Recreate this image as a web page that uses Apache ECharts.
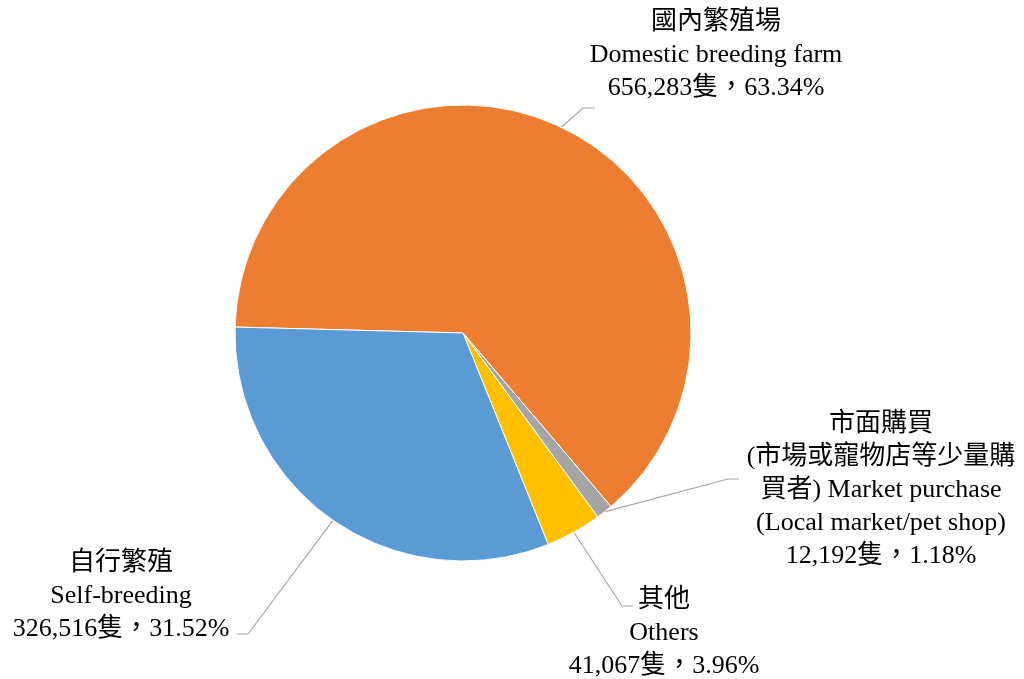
<!DOCTYPE html>
<html>
<head>
<meta charset="utf-8">
<script src="https://cdn.jsdelivr.net/npm/echarts@6/dist/echarts.min.js"></script>
<style>
html,body{margin:0;padding:0;background:#fff;}
#chart{width:1024px;height:679px;}
</style>
</head>
<body>
<div id="chart"></div>
<script>
const namesZh = ['國內繁殖場', '市面購買\n(市場或寵物店等少量購\n買者)', '其他', '自行繁殖'];
const namesEn = ['Domestic breeding farm', 'Market purchase\n(Local market/pet shop)', 'Others', 'Self-breeding'];
const counts = [656283, 12192, 41067, 326516];
const percents = ['63.34%', '1.18%', '3.96%', '31.52%'];
const colors = ['#ED7D31', '#A5A5A5', '#FFC000', '#5B9BD5'];

// label block centers and line bends (layout only)
const labelPos = [
  {x: 716, y: 55, bend: [583, 108], end: [595, 108]},
  {x: 881, y: 490, bend: [728, 479], end: [739, 479]},
  {x: 664, y: 633, bend: [622, 606], end: [633, 606]},
  {x: 121, y: 596, bend: [248, 634], end: [237, 634]}
];

function fmtNum(n){ return n.toLocaleString('en-US'); }

function labelText(i){
  if (i === 1) {
    return '市面購買\n(市場或寵物店等少量購\n買者) Market purchase\n(Local market/pet shop)\n' + fmtNum(counts[i]) + '隻，' + percents[i];
  }
  return namesZh[i] + '\n' + namesEn[i] + '\n' + fmtNum(counts[i]) + '隻，' + percents[i];
}

const data = counts.map((v, i) => ({
  value: v,
  name: namesEn[i],
  itemStyle: {color: colors[i]}
}));

const chart = echarts.init(document.getElementById('chart'), null, {renderer: 'canvas'});
chart.setOption({
  animation: false,
  backgroundColor: '#ffffff',
  series: [{
    type: 'pie',
    center: [463, 333],
    radius: [0, 228],
    startAngle: 178.5,
    clockwise: true,
    avoidLabelOverlap: false,
    data: data,
    itemStyle: {borderColor: '#ffffff', borderWidth: 1},
    emphasis: {disabled: true},
    label: {
      show: true,
      position: 'outside',
      formatter: p => labelText(p.dataIndex),
      fontFamily: '"Liberation Serif", "Noto Sans CJK TC", serif',
      fontSize: 26,
      lineHeight: 33,
      color: '#000000',
      align: 'center'
    },
    labelLine: {
      show: true,
      length: 20,
      length2: 10,
      lineStyle: {color: '#A6A6A6', width: 1.2}
    },
    labelLayout: function (params) {
      const i = params.dataIndex;
      const L = labelPos[i];
      const start = params.labelLinePoints ? params.labelLinePoints[0] : L.bend;
      return {
        x: L.x,
        y: L.y,
        align: 'center',
        verticalAlign: 'middle',
        labelLinePoints: [start, L.bend, L.end]
      };
    }
  }]
});
</script>
</body>
</html>
